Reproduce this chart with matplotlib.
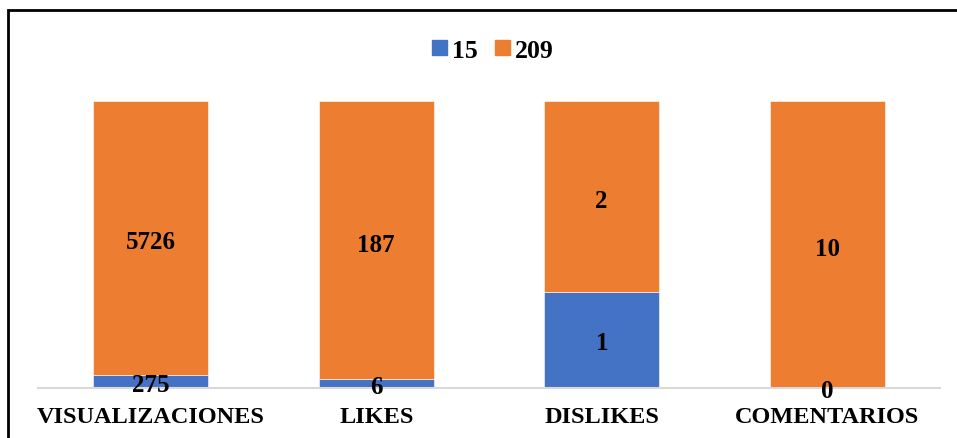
import matplotlib
matplotlib.use("Agg")
import matplotlib.pyplot as plt
from matplotlib.patches import Rectangle, Patch
import numpy as np

categories = ["VISUALIZACIONES", "LIKES", "DISLIKES", "COMENTARIOS"]
series_names = ["15", "209"]
values_15 = [275, 6, 1, 0]
values_209 = [5726, 187, 2, 10]
colors = ["#4472C4", "#ED7D31"]

plt.rcParams['font.family'] = ['Liberation Serif', 'DejaVu Serif']
plt.rcParams['font.weight'] = 'bold'

W, H = 957, 439
fig = plt.figure(figsize=(W / 100, H / 100), dpi=100)

# outer frame (left and top edges visible, continues beyond the image)
fig.patches.append(Rectangle((8 / W, -0.1), 1.2, 1.1 - 11 / H,
                             transform=fig.transFigure, fill=False,
                             edgecolor="black", linewidth=2))

ax = fig.add_axes([38 / W, (H - 389) / H, 902 / W, 287.3 / H])

v15 = np.array(values_15, dtype=float)
v209 = np.array(values_209, dtype=float)
tot = v15 + v209
p15 = v15 / tot
p209 = v209 / tot
x = np.arange(len(categories))
width = 0.51

b1 = ax.bar(x, p15, width, color=colors[0], label=series_names[0],
            edgecolor="white", linewidth=0.4)
b2 = ax.bar(x, p209, width, bottom=p15, color=colors[1], label=series_names[1],
            edgecolor="white", linewidth=0.4)

ax.bar_label(b1, labels=[str(v) for v in values_15], label_type="center",
             fontsize=18, fontweight="bold", color="black", padding=-2)
ax.bar_label(b2, labels=[str(v) for v in values_209], label_type="center",
             fontsize=18, fontweight="bold", color="black", padding=-3)

ax.set_xlim(-0.5, 3.5)
ax.set_ylim(0, 1)
ax.set_xticks(x)
ax.set_xticklabels(categories, fontsize=17.5, fontweight="bold")
ax.tick_params(axis="x", length=0, pad=13)
ax.set_yticks([])
for s in ["top", "right", "left"]:
    ax.spines[s].set_visible(False)
ax.spines["bottom"].set_color("#D9D9D9")
ax.spines["bottom"].set_linewidth(1.5)

handles = [Patch(color=colors[0]), Patch(color=colors[1])]
fig.legend(handles, series_names, loc="center", bbox_to_anchor=(493 / W, 1 - 51 / H),
           ncol=2, frameon=False, prop={"size": 18.5, "weight": "bold"},
           handlelength=0.55, handleheight=0.55, handletextpad=0.2,
           columnspacing=0.7)

fig.savefig("out.png", dpi=100)
